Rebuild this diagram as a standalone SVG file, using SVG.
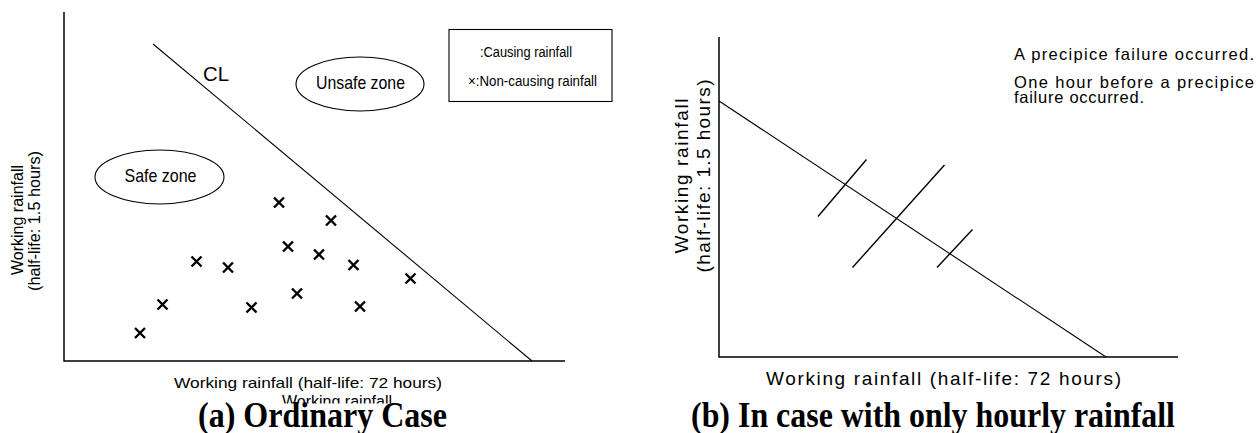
<svg xmlns="http://www.w3.org/2000/svg" width="1259" height="433" viewBox="0 0 1259 433">
<style>
.ax{stroke:#000;stroke-width:1.5;fill:none}
.ln{stroke:#000;stroke-width:1.1;fill:none}
.tk{stroke:#000;stroke-width:1.4;fill:none}
.mk{stroke:#000;stroke-width:2.4;fill:none}
.el{stroke:#000;stroke-width:1.1;fill:#fff}
.s{font-family:"Liberation Sans",Arial,sans-serif;fill:#000}
.t{font-family:"Liberation Serif","Times New Roman",serif;font-weight:bold;fill:#000;font-size:35px}
</style>
<defs>
<path id="x" d="M-5,-5L5,5M5,-5L-5,5"/>
</defs>
<rect width="1259" height="433" fill="#fff"/>
<g id="panel-a">
<g id="axes-a">
<path class="ax" d="M64,12V361H565"/>
</g>
<g id="connectors">
<path id="cl-line" class="ln" d="M153,44L532,361"/>
<path id="line-b" class="ln" d="M719,101L1106,357"/>
<path class="tk" d="M818,216.5L866.5,159.5"/>
<path class="tk" d="M852.5,267.5L944.5,165"/>
<path class="tk" d="M937,267.5L972.5,229.5"/>
</g>
<g id="cl-label"><text class="s" x="203" y="81" font-size="21" textLength="26" lengthAdjust="spacingAndGlyphs">CL</text></g>
<g id="unsafe-zone">
<ellipse class="el" cx="360" cy="84" rx="64" ry="27"/>
<text class="s" x="316" y="89" font-size="19" textLength="89" lengthAdjust="spacingAndGlyphs">Unsafe zone</text>
</g>
<g id="safe-zone">
<ellipse class="el" cx="159.5" cy="177" rx="64.5" ry="27"/>
<text class="s" x="124.5" y="182" font-size="19" textLength="72" lengthAdjust="spacingAndGlyphs">Safe zone</text>
</g>
<g id="legend">
<rect x="449" y="29.5" width="163" height="72" fill="#fff" stroke="#000" stroke-width="1.1"/>
<text class="s" x="480" y="57" font-size="14" textLength="92" lengthAdjust="spacingAndGlyphs">:Causing rainfall</text>
<text class="s" x="468" y="86" font-size="14" textLength="129" lengthAdjust="spacingAndGlyphs">×:Non-causing rainfall</text>
</g>
<g id="points">
<use href="#x" class="mk" x="279" y="202.5"/>
<use href="#x" class="mk" x="331" y="220.5"/>
<use href="#x" class="mk" x="288" y="246.5"/>
<use href="#x" class="mk" x="319" y="254.5"/>
<use href="#x" class="mk" x="353.5" y="265"/>
<use href="#x" class="mk" x="196.5" y="261.5"/>
<use href="#x" class="mk" x="228" y="267.5"/>
<use href="#x" class="mk" x="410.5" y="278.5"/>
<use href="#x" class="mk" x="162.5" y="304.5"/>
<use href="#x" class="mk" x="251.5" y="307.5"/>
<use href="#x" class="mk" x="297" y="293.5"/>
<use href="#x" class="mk" x="360" y="306.5"/>
<use href="#x" class="mk" x="140" y="333"/>
</g>
<g id="labels-a">
<text class="s" font-size="16" transform="translate(23,220) rotate(-90)" text-anchor="middle" textLength="110" lengthAdjust="spacingAndGlyphs">Working rainfall</text>
<text class="s" font-size="16" transform="translate(40,221) rotate(-90)" text-anchor="middle" textLength="140" lengthAdjust="spacingAndGlyphs">(half-life: 1.5 hours)</text>
<text class="s" x="174" y="388" font-size="15" textLength="268" lengthAdjust="spacingAndGlyphs">Working rainfall (half-life: 72 hours)</text>
<text class="s" x="282" y="407" font-size="16" textLength="110" lengthAdjust="spacingAndGlyphs">Working rainfall</text>
</g>
<rect x="180" y="403.5" width="290" height="29.5" fill="#fff"/>
<g id="title-a"><text class="t" x="198" y="427" textLength="249" lengthAdjust="spacingAndGlyphs">(a) Ordinary Case</text></g>
</g>
<g id="panel-b">
<g id="axes-b">
<path class="ax" d="M719,37V357H1178"/>
</g>
<g id="notes-b">
<text class="s" x="1014" y="60" font-size="16.5" textLength="240" lengthAdjust="spacing">A precipice failure occurred.</text>
<text class="s" x="1014" y="88" font-size="16.5" textLength="240" lengthAdjust="spacing">One hour before a precipice</text>
<text class="s" x="1014" y="103" font-size="16.5" textLength="130" lengthAdjust="spacing">failure occurred.</text>
</g>
<g id="labels-b">
<text class="s" font-size="19" transform="translate(688,176) rotate(-90)" text-anchor="middle" textLength="155" lengthAdjust="spacing">Working rainfall</text>
<text class="s" font-size="19" transform="translate(710,176) rotate(-90)" text-anchor="middle" textLength="193" lengthAdjust="spacing">(half-life: 1.5 hours)</text>
<text class="s" x="766" y="385" font-size="19" textLength="355" lengthAdjust="spacing">Working rainfall (half-life: 72 hours)</text>
</g>
<g id="title-b"><text class="t" x="691" y="427" textLength="484" lengthAdjust="spacingAndGlyphs">(b) In case with only hourly rainfall</text></g>
</g>
</svg>
